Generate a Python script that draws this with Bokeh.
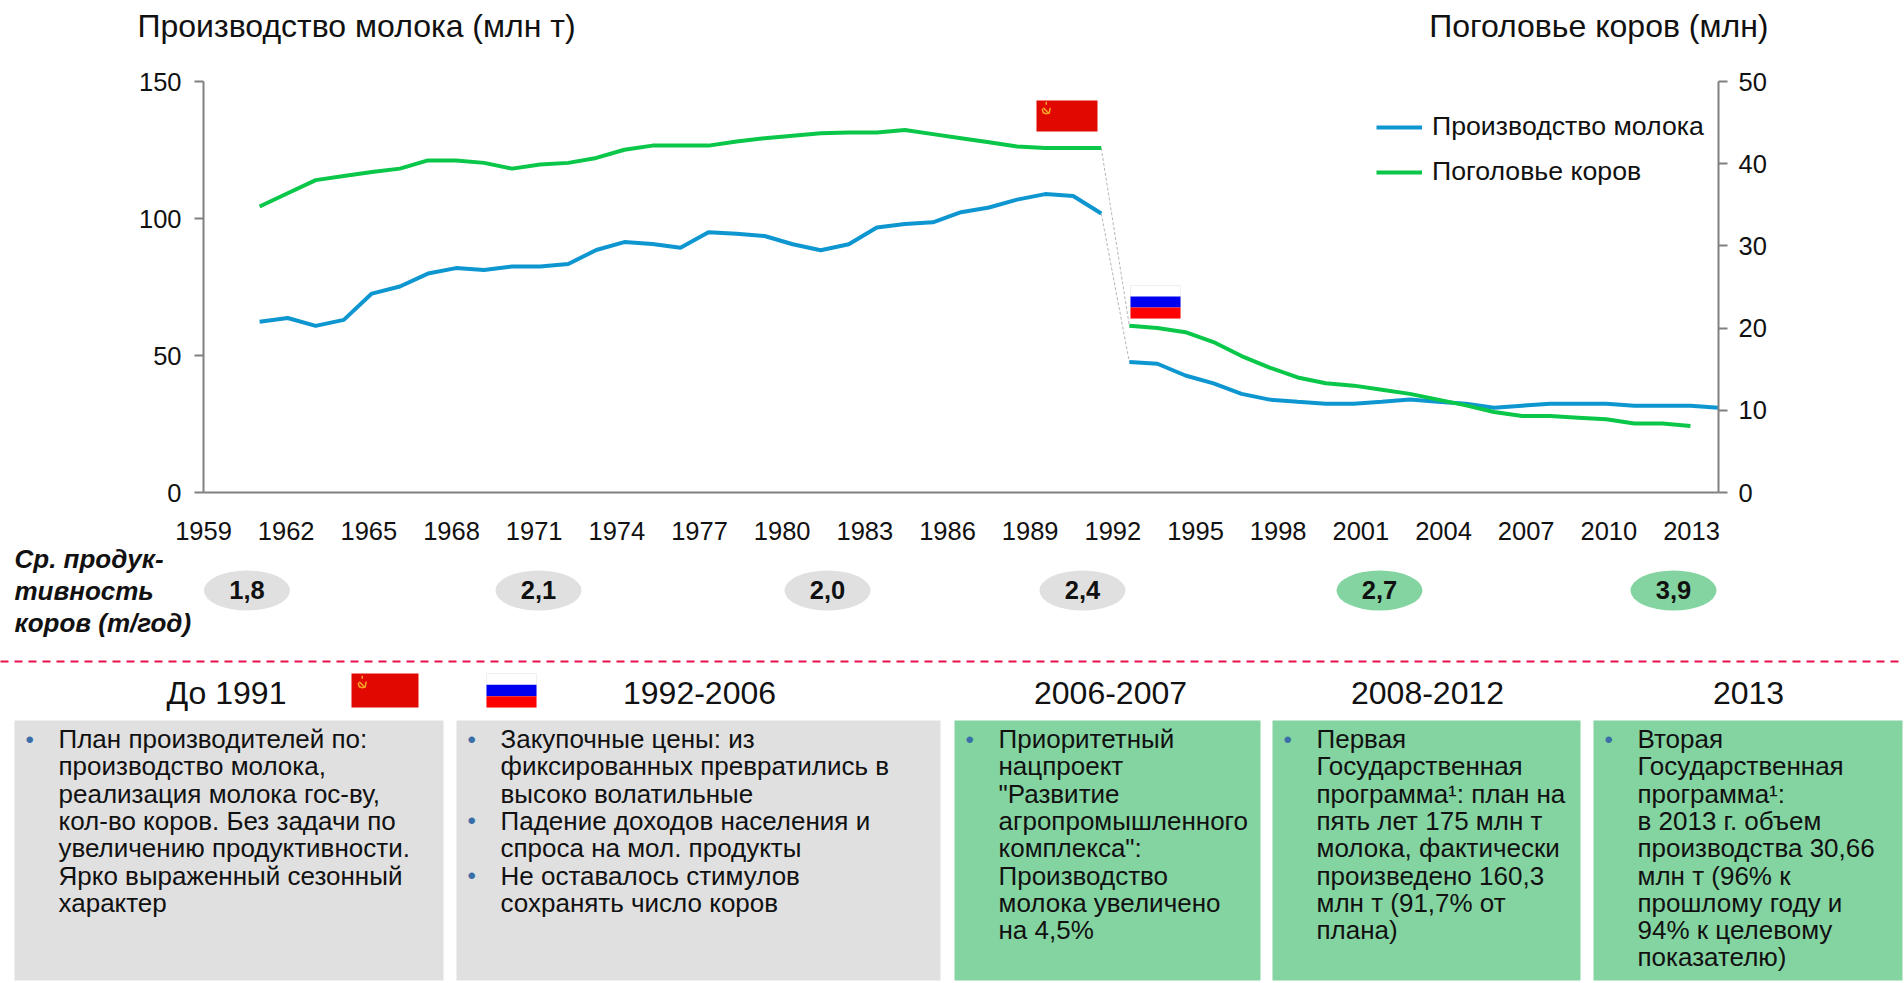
from bokeh.embed import file_html
from bokeh.resources import INLINE
from bokeh.plotting import figure
from bokeh.models import Range1d, LinearAxis, FixedTicker, Legend, LegendItem
from bokeh.core.properties import value

FONT = value("Liberation Sans")

years_a = list(range(1961, 1992))
years_b = list(range(1992, 2014))
milk_a = [62.3, 63.7, 60.8, 63.0, 72.6, 75.2, 79.9, 81.9, 81.2, 82.5, 82.5, 83.4, 88.5, 91.4, 90.7, 89.3,
          95.0, 94.4, 93.6, 90.6, 88.4, 90.6, 96.7, 98.0, 98.6, 102.3, 104.0, 106.9, 108.9, 108.2, 101.8]
milk_b = [47.6, 47.0, 42.7, 39.8, 36.0, 33.9, 33.1, 32.4, 32.4, 33.1, 33.9, 33.1, 32.4, 30.9, 31.7, 32.4,
          32.4, 32.4, 31.7, 31.7, 31.7, 30.9]
cows_a = [34.8, 36.4, 38.0, 38.5, 39.0, 39.4, 40.4, 40.4, 40.1, 39.4, 39.9, 40.1, 40.7, 41.7, 42.2, 42.2,
          42.2, 42.7, 43.1, 43.4, 43.7, 43.8, 43.8, 44.1, 43.6, 43.1, 42.6, 42.1, 41.9, 41.9, 41.9]
cows_b = [20.3, 20.0, 19.5, 18.3, 16.6, 15.2, 14.0, 13.3, 13.0, 12.5, 12.0, 11.3, 10.6, 9.8, 9.3, 9.3,
          9.1, 8.9, 8.4, 8.4, 8.1]
year_ticks = list(range(1959, 2014, 3))
milk_ticks = [0, 50, 100, 150]
cow_ticks = [0, 10, 20, 30, 40, 50]
yields = ["1,8", "2,1", "2,0", "2,4", "2,7", "3,9"]
yield_highlight = [False, False, False, False, True, True]
yield_label = ["Ср. продук-", "тивность", "коров (т/год)"]
headers = ["До 1991", "1992-2006", "2006-2007", "2008-2012", "2013"]
panels = [
    [["План производителей по:", "производство молока,", "реализация молока гос-ву,", "кол-во коров. Без задачи по",
      "увеличению продуктивности.", "Ярко выраженный сезонный", "характер"]],
    [["Закупочные цены: из", "фиксированных превратились в", "высоко волатильные"],
     ["Падение доходов населения и", "спроса на мол. продукты"],
     ["Не оставалось стимулов", "сохранять число коров"]],
    [["Приоритетный", "нацпроект", "\"Развитие", "агропромышленного", "комплекса\":", "Производство",
      "молока увеличено", "на 4,5%"]],
    [["Первая", "Государственная", "программа¹: план на", "пять лет 175 млн т", "молока, фактически",
      "произведено 160,3", "млн т (91,7% от", "плана)"]],
    [["Вторая", "Государственная", "программа¹:", "в 2013 г. объем", "производства 30,66", "млн т (96% к",
      "прошлому году и", "94% к целевому", "показателю)"]],
]

W, H = 1904, 983
L, R, T, B = 203, 1718, 81, 492
BLUE, GREEN, AXIS = "#0e96d0", "#0ac74a", "#808080"
GREY_BG, GREEN_BG = "#e0e0e0", "#84d4a1"

p = figure(width=W, height=H, output_backend="svg", toolbar_location=None,
           x_range=Range1d(1959, 2013), y_range=Range1d(0, 150), x_axis_type=None, y_axis_type=None,
           min_border_left=L, min_border_right=W - R, min_border_top=T, min_border_bottom=H - B,
           outline_line_color=None)
p.xgrid.visible = False
p.ygrid.visible = False
p.extra_y_ranges["cows"] = Range1d(0, 50)
p.extra_x_ranges["labels"] = Range1d(1959, 2013.98)
p.extra_x_ranges["px"] = Range1d(L, R)
p.extra_y_ranges["py"] = Range1d(B, T)


def style(ax, size="25.5px"):
    ax.axis_line_color = AXIS
    ax.axis_line_width = 2
    ax.major_tick_line_color = AXIS
    ax.major_tick_line_width = 2
    ax.major_tick_in = 0
    ax.minor_tick_line_color = None
    ax.major_label_text_font = "Liberation Sans"
    ax.major_label_text_font_size = size
    ax.major_label_text_color = "#111111"


ax_l = LinearAxis(ticker=FixedTicker(ticks=milk_ticks))
style(ax_l); ax_l.major_tick_out = 9; ax_l.major_label_standoff = 13
p.add_layout(ax_l, "left")
ax_r = LinearAxis(y_range_name="cows", ticker=FixedTicker(ticks=cow_ticks))
style(ax_r); ax_r.major_tick_out = 9; ax_r.major_label_standoff = 11
p.add_layout(ax_r, "right")
ax_b = LinearAxis(x_range_name="labels", ticker=FixedTicker(ticks=year_ticks))
style(ax_b); ax_b.major_tick_out = 0; ax_b.major_label_standoff = 29
ax_b.major_label_overrides = {y: str(y) for y in year_ticks}
p.add_layout(ax_b, "below")

px = dict(x_range_name="px", y_range_name="py", level="overlay")


def txt(x, y, s, size, align="left", color="#111111", style_="normal"):
    p.text(x=[x], y=[y], text=[s], text_font=FONT, text_font_size=value(size), text_align=align,
           text_baseline="middle", text_color=color, text_font_style=style_, **px)


def box(x0, x1, y0, y1, color, line=None):
    p.quad(left=[x0], right=[x1], top=[y0], bottom=[y1], fill_color=color, line_color=line, **px)


def ussr(x0, x1, y0, y1):
    box(x0, x1, y0, y1, "#e00800")
    cx, cy = x0 + (x1 - x0) * 0.16, y0 + (y1 - y0) * 0.3
    p.multi_line(xs=[[cx - 4, cx - 3, cx, cx + 3, cx + 4], [cx - 3, cx + 3], [cx, cx]],
                 ys=[[cy - 1, cy + 3, cy + 4, cy + 3, cy - 2], [cy - 2, cy + 4], [cy - 8, cy - 5]],
                 line_color="#f5a623", line_width=1.5, **px)


def russia(x0, x1, y0, y1):
    h = (y1 - y0) / 3
    box(x0, x1, y0, y1, "#ffffff", line="#f0f0f0")
    box(x0, x1, y0 + h, y0 + 2 * h, "#0000f0")
    box(x0, x1, y0 + 2 * h, y1, "#ff0000")


# connectors between the USSR and Russia series
p.line([years_a[-1], years_b[0]], [milk_a[-1], milk_b[0]], line_color="#b5b5b5", line_width=1, line_dash="3 2")
p.line([years_a[-1], years_b[0]], [cows_a[-1], cows_b[0]], line_color="#b5b5b5", line_width=1, line_dash="3 2",
       y_range_name="cows")
# series
m1 = p.line(years_a, milk_a, line_color=BLUE, line_width=4)
p.line(years_b, milk_b, line_color=BLUE, line_width=4)
c1 = p.line(years_a, cows_a, line_color=GREEN, line_width=4, y_range_name="cows")
p.line(years_b, cows_b, line_color=GREEN, line_width=4, y_range_name="cows")

legend = Legend(items=[LegendItem(label="Производство молока", renderers=[m1]),
                       LegendItem(label="Поголовье коров", renderers=[c1])],
                location=(1173, 305), border_line_color=None, background_fill_alpha=0,
                label_text_font="Liberation Sans", label_text_font_size="26.7px", label_text_color="#111111",
                glyph_width=46, glyph_height=30, label_height=30, label_standoff=10, spacing=14,
                padding=0, margin=0)
p.add_layout(legend, "center")

# titles
txt(137, 25, "Производство молока (млн т)", "32px")
txt(1768, 25, "Поголовье коров (млн)", "32px", align="right")

# flags in chart
ussr(1036, 1097, 100, 131)
russia(1130, 1180, 285, 318)

# yield row
for s, hi, cx in zip(yields, yield_highlight, [246.5, 538, 827, 1082, 1379, 1673]):
    p.ellipse(x=[cx], y=[590], width=[86], height=[40], fill_color=GREEN_BG if hi else GREY_BG, line_color=None, **px)
    txt(cx, 589, s, "25.5px", align="center", style_="bold")
for s, y in zip(yield_label, [558, 590, 622]):
    txt(14, y, s, "26px", style_="bold italic")

# dashed separator
p.line([0, 1904], [661, 661], line_color="#e8104a", line_width=2, line_dash="8 6", **px)

# headers
for s, cx in zip(headers, [226, 699, 1110, 1427, 1748]):
    txt(cx, 692, s, "32px", align="center")
ussr(351, 418, 673, 707)
russia(486, 536, 673, 707)

# panels
boxes = [(14, 443, GREY_BG), (456, 940, GREY_BG), (954, 1260, GREEN_BG), (1272, 1580, GREEN_BG), (1593, 1902, GREEN_BG)]
for (x0, x1, col), bullets in zip(boxes, panels):
    box(x0, x1, 720, 980, col)
    n = 0
    for lines in bullets:
        txt(x0 + 11, 738.5 + n * 27.3, "•", "24px", color="#3b6ea8")
        for ln in lines:
            txt(x0 + 44, 738.5 + n * 27.3, ln, "26px")
            n += 1

open("out.html", "w").write(file_html(p, INLINE))
